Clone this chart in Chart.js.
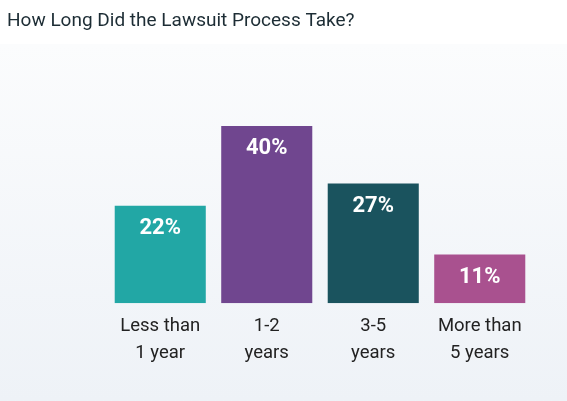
<!DOCTYPE html>
<html>
<head>
<meta charset="utf-8">
<script src="https://cdn.jsdelivr.net/npm/chart.js@4.4.1/dist/chart.umd.min.js"></script>
<style>
  html, body { margin: 0; padding: 0; background: #fff; }
  #wrap { width: 567px; height: 401px; position: relative; }
</style>
</head>
<body>
<div id="wrap"><canvas id="lawsuitChart"></canvas></div>
<script>
// chart data
const categories = [['Less than', '1 year'], ['1-2', 'years'], ['3-5', 'years'], ['More than', '5 years']];
const shares = [22, 40, 27, 11];
const barColors = ['#22a7a5', '#70468f', '#1a535e', '#a9518f'];

// light panel behind the bars
const panelBackground = {
    id: 'panelBackground',
    beforeDraw(chart) {
        const ctx = chart.ctx;
        const w = chart.width, h = chart.height;
        ctx.save();
        ctx.fillStyle = '#ffffff';
        ctx.fillRect(0, 0, w, h);
        const grad = ctx.createLinearGradient(0, 44, 0, h);
        grad.addColorStop(0, '#fbfcfd');
        grad.addColorStop(1, '#eef2f7');
        ctx.fillStyle = grad;
        ctx.fillRect(0, 44, w, h - 44);
        ctx.restore();
    }
};

// percentage labels inside the bars
const valueLabels = {
    id: 'valueLabels',
    afterDatasetsDraw(chart) {
        const ctx = chart.ctx;
        const meta = chart.getDatasetMeta(0);
        ctx.save();
        ctx.font = 'bold 22px Roboto';
        ctx.fillStyle = '#ffffff';
        ctx.textAlign = 'center';
        ctx.textBaseline = 'middle';
        meta.data.forEach((bar, i) => {
            ctx.fillText(shares[i] + '%', bar.x, bar.y + 23);
        });
        ctx.restore();
    }
};

const ctx = document.getElementById('lawsuitChart').getContext('2d');
new Chart(ctx, {
    type: 'bar',
    data: {
        labels: categories,
        datasets: [{
            data: shares,
            backgroundColor: barColors,
            borderWidth: 0,
            barPercentage: 0.855,
            categoryPercentage: 1
        }]
    },
    plugins: [panelBackground, valueLabels],
    options: {
        responsive: true,
        maintainAspectRatio: false,
        animation: false,
        layout: { padding: { left: 7, right: 34, top: 0, bottom: 24 } },
        plugins: {
            legend: { display: false },
            tooltip: { enabled: false },
            title: {
                display: true,
                text: 'How Long Did the Lawsuit Process Take?',
                align: 'start',
                color: '#1d2d35',
                font: { family: 'Roboto', size: 19, weight: 'normal', lineHeight: 1.2 },
                padding: { top: 10, bottom: 71 }
            }
        },
        scales: {
            x: {
                grid: { display: false, drawTicks: false },
                border: { display: false },
                ticks: {
                    color: '#222222',
                    padding: 10,
                    maxRotation: 0,
                    font: { family: 'Roboto', size: 18.5, lineHeight: 1.45 }
                }
            },
            y: {
                min: 0,
                max: 45,
                grid: { display: false, drawTicks: false },
                border: { display: false },
                ticks: { display: false },
                afterFit(scale) { scale.width = 100; }
            }
        }
    }
});
</script>
</body>
</html>
